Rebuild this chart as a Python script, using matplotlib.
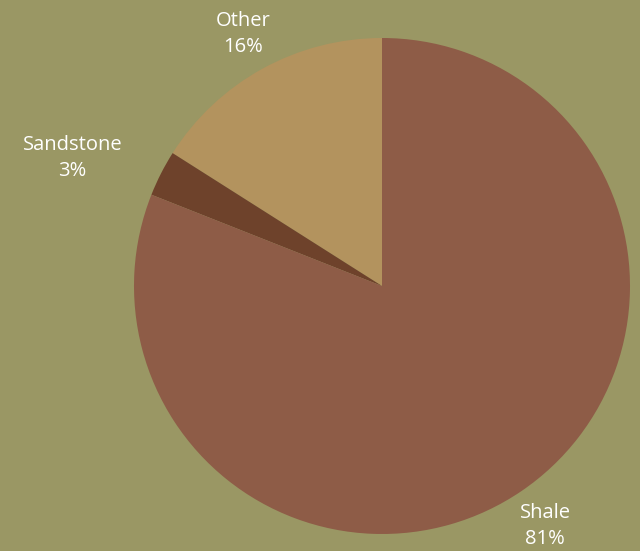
import matplotlib
matplotlib.use("Agg")
import matplotlib.pyplot as plt
import numpy as np

labels = ["Other", "Sandstone", "Shale"]
shares = [16, 3, 81]
colors = ["#b3935e", "#6e422b", "#8e5c47"]
label_dist = [1.16, 1.35, 1.17]
label_shift = [0, 4.5, 0]  # degrees, nudges the label round the circle

bg = "#9a9764"

fig = plt.figure(figsize=(6.4, 5.51), dpi=100, facecolor=bg)
# pie of radius 1 spans 248 px, centred at (382, 286) px
ax = fig.add_axes([134 / 640, 17 / 551, 496 / 640, 496 / 551])
ax.set_facecolor(bg)

wedges, _ = ax.pie(shares, colors=colors, startangle=90, counterclock=True,
                   radius=1, wedgeprops=dict(linewidth=0))

for w, lab, val, d, s in zip(wedges, labels, shares, label_dist, label_shift):
    mid = np.deg2rad((w.theta1 + w.theta2) / 2 + s)
    ax.text(d * np.cos(mid), d * np.sin(mid), f"{lab}\n{val}%",
            ha="center", va="center", color="white", fontsize=14.5,
            family="Open Sans", linespacing=1.35, clip_on=False)

ax.set_xlim(-1, 1)
ax.set_ylim(-1, 1)
ax.axis("off")

fig.savefig("out.png", facecolor=bg)
